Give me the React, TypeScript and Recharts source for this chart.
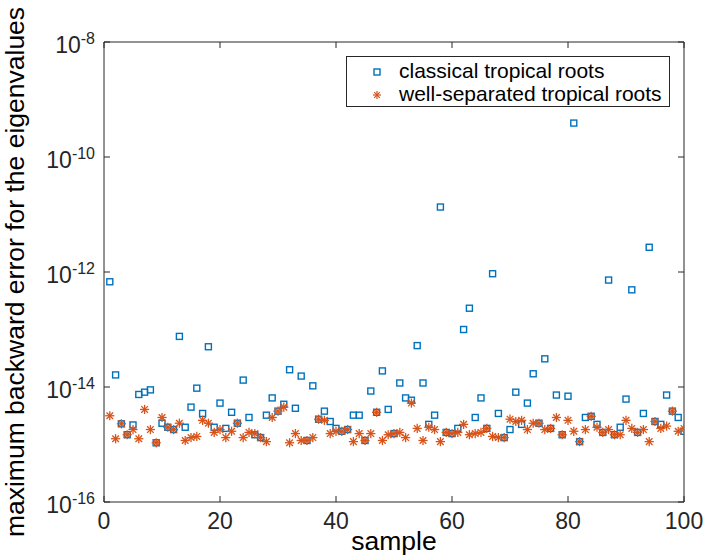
import React from 'react';
import { ScatterChart, Scatter, XAxis, YAxis, Legend } from 'recharts';

// sample index (x)
const samples = [
  1, 2, 3, 4, 5, 6, 7, 8, 9, 10, 11, 12, 13, 14, 15, 16, 17, 18, 19, 20,
  21, 22, 23, 24, 25, 26, 27, 28, 29, 30, 31, 32, 33, 34, 35, 36, 37, 38, 39, 40,
  41, 42, 43, 44, 45, 46, 47, 48, 49, 50, 51, 52, 53, 54, 55, 56, 57, 58, 59, 60,
  61, 62, 63, 64, 65, 66, 67, 68, 69, 70, 71, 72, 73, 74, 75, 76, 77, 78, 79, 80,
  81, 82, 83, 84, 85, 86, 87, 88, 89, 90, 91, 92, 93, 94, 95, 96, 97, 98, 99, 100,
];

// log10 of the maximum backward error, classical tropical roots
const classicalExp = [
  -12.17, -13.79, -14.64, -14.83, -14.66, -14.13, -14.09, -14.05, -14.97, -14.63,
  -14.70, -14.74, -13.12, -14.70, -14.35, -14.02, -14.46, -13.30, -14.70, -14.28,
  -14.72, -14.44, -14.63, -13.88, -14.53, -14.83, -14.88, -14.49, -14.19, -14.42,
  -14.30, -13.70, -14.37, -13.81, -14.93, -13.98, -14.56, -14.42, -14.60, -14.72,
  -14.77, -14.74, -14.49, -14.49, -14.93, -14.07, -14.44, -13.72, -14.39, -14.81,
  -13.93, -14.19, -14.23, -13.28, -13.93, -14.65, -14.49, -10.87, -14.79, -14.81,
  -14.72, -13.00, -12.63, -14.53, -14.19, -14.72, -12.03, -14.46, -14.88, -14.74,
  -14.09, -14.65, -14.28, -13.77, -14.63, -13.51, -14.72, -14.14, -14.83, -14.16,
  -9.41, -14.95, -14.53, -14.51, -14.65, -14.79, -12.14, -14.83, -14.70, -14.21,
  -12.31, -14.79, -14.46, -11.57, -14.60, -14.65, -14.14, -14.42, -14.53, -14.77,
];

// log10 of the maximum backward error, well-separated tropical roots
const separatedExp = [
  -14.50, -14.90, -14.64, -14.83, -14.74, -14.90, -14.39, -14.74, -14.97, -14.53,
  -14.70, -14.74, -14.63, -14.93, -14.88, -14.86, -14.58, -14.63, -14.79, -14.74,
  -14.88, -14.77, -14.63, -14.88, -14.79, -14.81, -14.88, -14.95, -14.53, -14.42,
  -14.35, -14.97, -14.81, -14.93, -14.93, -14.88, -14.56, -14.58, -14.81, -14.77,
  -14.77, -14.74, -14.95, -14.81, -14.93, -14.81, -14.44, -14.93, -14.83, -14.81,
  -14.79, -14.88, -14.28, -14.72, -14.93, -14.70, -14.74, -14.95, -14.79, -14.81,
  -14.79, -14.65, -14.83, -14.81, -14.79, -14.72, -14.86, -14.88, -14.88, -14.56,
  -14.60, -14.58, -14.74, -14.63, -14.63, -14.74, -14.72, -14.53, -14.83, -14.58,
  -14.77, -14.95, -14.74, -14.51, -14.70, -14.79, -14.74, -14.83, -14.83, -14.58,
  -14.72, -14.79, -14.74, -14.95, -14.60, -14.72, -14.68, -14.42, -14.77, -14.72,
];

const xTicks = [0, 20, 40, 60, 80, 100];
const yTicks = [1e-16, 1e-14, 1e-12, 1e-10, 1e-8];
const seriesNames = ['classical tropical roots', 'well-separated tropical roots'];

const classicalData = samples.map((s, i) => ({ sample: s, error: Math.pow(10, classicalExp[i]) }));
const separatedData = samples.map((s, i) => ({ sample: s, error: Math.pow(10, separatedExp[i]) }));

const AXIS = '#262626';
const BLUE = '#0072BD';
const ORANGE = '#D95319';
const FONT = '"Liberation Sans", Arial, Helvetica, sans-serif';
const TICK_FS = 23;
const SUP_FS = 16;

const BottomTick = (props: any) => {
  const { x, y, payload } = props;
  return (
    <g>
      <line x1={x} x2={x} y1={y} y2={y - 6} stroke={AXIS} strokeWidth={1} />
      <text x={x} y={y + 27} textAnchor="middle" fontSize={TICK_FS} fill={AXIS} fontFamily={FONT}>
        {payload.value}
      </text>
    </g>
  );
};

const TopTick = (props: any) => {
  const { x, y } = props;
  return <line x1={x} x2={x} y1={y} y2={y + 6} stroke={AXIS} strokeWidth={1} />;
};

const LeftTick = (props: any) => {
  const { x, y, payload } = props;
  const e = Math.round(Math.log10(payload.value));
  return (
    <g>
      <line x1={x} x2={x + 6} y1={y} y2={y} stroke={AXIS} strokeWidth={1} />
      <text x={x - 9} y={y + 11} textAnchor="end" fill={AXIS} fontFamily={FONT}>
        <tspan fontSize={TICK_FS}>10</tspan>
        <tspan fontSize={SUP_FS} dy={-9}>{String(e)}</tspan>
      </text>
    </g>
  );
};

const RightTick = (props: any) => {
  const { x, y } = props;
  return <line x1={x} x2={x - 6} y1={y} y2={y} stroke={AXIS} strokeWidth={1} />;
};

const XLabel = (props: any) => {
  const vb = props.viewBox || { x: 104, y: 502, width: 580, height: 55 };
  return (
    <text x={vb.x + vb.width / 2} y={vb.y + 48} textAnchor="middle" fontSize={26.5} fill="#000" fontFamily={FONT}>
      sample
    </text>
  );
};

const YLabel = (props: any) => {
  const vb = props.viewBox || { x: 0, y: 42, width: 104, height: 460 };
  const cx = 24;
  const cy = vb.y + vb.height / 2;
  return (
    <text
      x={cx}
      y={cy}
      transform={`rotate(-90, ${cx}, ${cy})`}
      textAnchor="middle"
      fontSize={26.5}
      fill="#000"
      fontFamily={FONT}
    >
      maximum backward error for the eigenvalues
    </text>
  );
};

const SquareShape = (props: any) => {
  const { cx, cy } = props;
  if (cx == null || cy == null) return <g />;
  return <rect x={cx - 3} y={cy - 3} width={6} height={6} fill="none" stroke={BLUE} strokeWidth={1.4} />;
};

const StarShape = (props: any) => {
  const { cx, cy } = props;
  if (cx == null || cy == null) return <g />;
  const r = 4.6;
  const d = 3.3;
  return (
    <g stroke={ORANGE} strokeWidth={1.3}>
      <line x1={cx - r} y1={cy} x2={cx + r} y2={cy} />
      <line x1={cx} y1={cy - r} x2={cx} y2={cy + r} />
      <line x1={cx - d} y1={cy - d} x2={cx + d} y2={cy + d} />
      <line x1={cx - d} y1={cy + d} x2={cx + d} y2={cy - d} />
    </g>
  );
};

const LegendBox = () => (
  <div
    style={{
      width: 324,
      height: 51,
      boxSizing: 'border-box',
      border: `1px solid ${AXIS}`,
      background: '#fff',
      position: 'relative',
      fontFamily: FONT,
      fontSize: 21,
      color: '#000',
    }}
  >
    {seriesNames.map((name, i) => (
      <div key={name} style={{ position: 'absolute', left: 0, top: i === 0 ? 2 : 25, height: 24, width: '100%' }}>
        <svg width={20} height={24} style={{ position: 'absolute', left: 20, top: 0 }}>
          {i === 0 ? (
            <rect x={7} y={10} width={6} height={6} fill="none" stroke={BLUE} strokeWidth={1.4} />
          ) : (
            <g stroke={ORANGE} strokeWidth={1.2}>
              <line x1={6} y1={13} x2={14} y2={13} />
              <line x1={10} y1={9} x2={10} y2={17} />
              <line x1={7.2} y1={10.2} x2={12.8} y2={15.8} />
              <line x1={7.2} y1={15.8} x2={12.8} y2={10.2} />
            </g>
          )}
        </svg>
        <span style={{ position: 'absolute', left: 52, top: 0, lineHeight: '24px', whiteSpace: 'nowrap' }}>{name}</span>
      </div>
    ))}
  </div>
);

export default function App() {
  return (
    <div style={{ position: 'absolute', left: 0, top: 0, width: 705, height: 557, background: '#fff' }}>
      <ScatterChart width={705} height={557} margin={{ top: 41, right: 20, bottom: 0, left: 0 }}>
        <XAxis
          xAxisId="bottom"
          dataKey="sample"
          type="number"
          domain={[0, 100]}
          ticks={xTicks}
          allowDataOverflow
          height={55}
          tickSize={0}
          tickMargin={0}
          tickLine={false}
          tick={<BottomTick />}
          axisLine={{ stroke: AXIS, strokeWidth: 1 }}
          label={<XLabel />}
        />
        <XAxis
          xAxisId="top"
          orientation="top"
          dataKey="sample"
          type="number"
          domain={[0, 100]}
          ticks={xTicks}
          allowDataOverflow
          height={1}
          tickSize={0}
          tickMargin={0}
          tickLine={false}
          tick={<TopTick />}
          axisLine={{ stroke: AXIS, strokeWidth: 1 }}
        />
        <YAxis
          yAxisId="left"
          dataKey="error"
          type="number"
          scale="log"
          domain={[1e-16, 1e-8]}
          ticks={yTicks}
          allowDataOverflow
          width={104}
          tickSize={0}
          tickMargin={0}
          tickLine={false}
          tick={<LeftTick />}
          axisLine={{ stroke: AXIS, strokeWidth: 1 }}
          label={<YLabel />}
        />
        <YAxis
          yAxisId="right"
          orientation="right"
          dataKey="error"
          type="number"
          scale="log"
          domain={[1e-16, 1e-8]}
          ticks={yTicks}
          allowDataOverflow
          width={1}
          tickSize={0}
          tickMargin={0}
          tickLine={false}
          tick={<RightTick />}
          axisLine={{ stroke: AXIS, strokeWidth: 1 }}
        />
        <Legend
          layout="vertical"
          align="center"
          verticalAlign="middle"
          content={<LegendBox />}
          wrapperStyle={{ position: 'absolute', left: 346, top: 56, width: 324, height: 51 }}
        />
        <Scatter
          name={seriesNames[0]}
          data={classicalData}
          xAxisId="bottom"
          yAxisId="left"
          shape={<SquareShape />}
          isAnimationActive={false}
        />
        <Scatter
          name={seriesNames[1]}
          data={separatedData}
          xAxisId="bottom"
          yAxisId="left"
          shape={<StarShape />}
          isAnimationActive={false}
        />
      </ScatterChart>
    </div>
  );
}
